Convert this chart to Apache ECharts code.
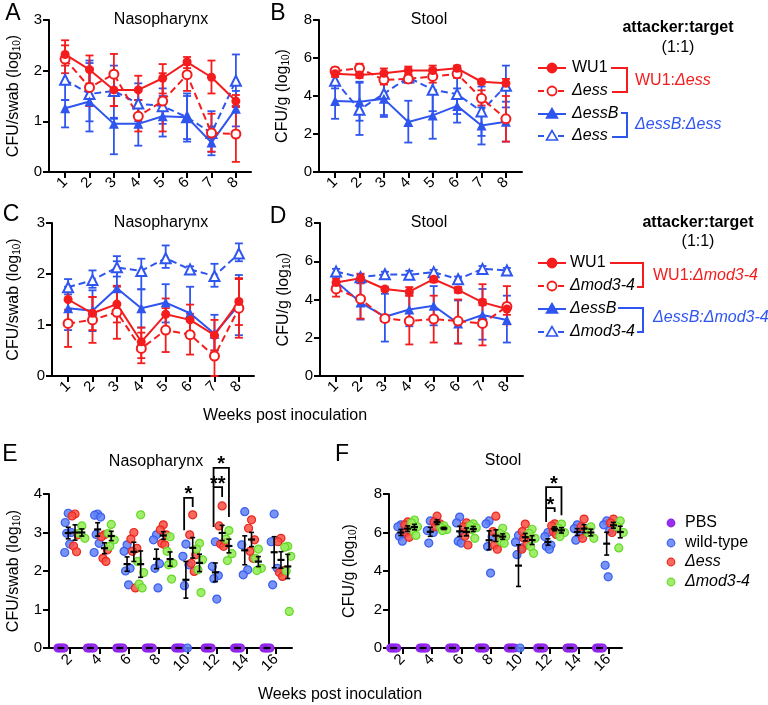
<!DOCTYPE html>
<html><head><meta charset="utf-8">
<script src="https://cdn.jsdelivr.net/npm/echarts@6/dist/echarts.min.js"></script>
<style>html,body{margin:0;padding:0;background:#fff}#c{width:768px;height:705px}</style>
</head><body><div id="c"></div>
<script>
const FONT = '"Liberation Sans", Arial, Helvetica, sans-serif';
const RED = '#f41c1c';
const BLUE = '#2f55ef';

// ---------- Panels A-D (weeks 1-8) ----------
const weeksAD = [1, 2, 3, 4, 5, 6, 7, 8];
const tickLabelsAD = ['1', '2', '3', '4', '5', '6', '7', '8'];

// Panel A: Nasopharynx (WU1:Δess, ΔessB:Δess)
const A_WU1 = [2.32, 2.02, 1.62, 1.62, 1.85, 2.17, 1.87, 1.40];
const A_WU1_lo = [2.10, 1.75, 1.30, 1.30, 1.55, 2.05, 1.55, 1.28];
const A_WU1_hi = [2.60, 2.30, 1.95, 1.90, 2.13, 2.27, 2.20, 1.52];
const A_ESS_R = [2.23, 1.67, 1.93, 1.10, 1.40, 1.92, 0.77, 0.75];
const A_ESS_R_lo = [1.95, 1.30, 1.30, 0.80, 0.80, 1.60, 0.40, 0.20];
const A_ESS_R_hi = [2.50, 2.05, 2.33, 1.42, 1.95, 2.20, 1.15, 1.30];
const A_ESSB = [1.26, 1.39, 0.95, 0.95, 1.10, 1.08, 0.58, 1.25];
const A_ESSB_lo = [0.88, 0.80, 0.35, 0.52, 0.70, 0.60, 0.33, 0.90];
const A_ESSB_hi = [1.42, 2.20, 1.07, 1.42, 1.50, 1.55, 0.90, 1.60];
const A_ESS_B = [1.82, 1.54, 1.60, 1.35, 1.30, 1.08, 0.77, 1.80];
const A_ESS_B_lo = [1.42, 1.00, 1.05, 1.00, 0.95, 0.65, 0.40, 1.30];
const A_ESS_B_hi = [2.20, 2.15, 2.10, 1.75, 1.65, 1.50, 1.20, 2.32];

// Panel B: Stool
const B_WU1 = [5.17, 5.11, 5.20, 5.34, 5.34, 5.46, 4.75, 4.67];
const B_WU1_lo = [5.00, 4.95, 5.00, 5.15, 5.10, 5.35, 4.65, 4.40];
const B_WU1_hi = [5.35, 5.30, 5.45, 5.55, 5.60, 5.60, 4.85, 4.90];
const B_ESS_R = [5.32, 5.46, 4.85, 4.90, 5.03, 5.17, 3.88, 2.80];
const B_ESS_R_lo = [5.15, 5.20, 4.60, 4.70, 4.70, 4.95, 3.50, 1.60];
const B_ESS_R_hi = [5.50, 5.70, 5.10, 5.10, 5.40, 5.40, 4.30, 4.00];
const B_ESSB = [3.74, 3.70, 3.85, 2.63, 2.98, 3.48, 2.45, 2.65];
const B_ESSB_lo = [2.80, 2.70, 2.90, 1.55, 1.75, 2.60, 1.45, 1.60];
const B_ESSB_hi = [4.60, 4.75, 4.90, 3.75, 4.20, 4.40, 3.40, 3.70];
const B_ESS_B = [4.80, 3.28, 4.12, 4.98, 4.33, 4.10, 3.19, 4.54];
const B_ESS_B_lo = [4.40, 1.95, 3.00, 4.70, 3.20, 3.05, 1.90, 3.40];
const B_ESS_B_hi = [5.20, 4.70, 5.20, 5.30, 5.40, 5.20, 4.50, 5.60];

// Panel C: Nasopharynx (WU1:Δmod3-4, ΔessB:Δmod3-4)
const C_WU1 = [1.50, 1.23, 1.41, 0.67, 1.21, 1.10, 0.80, 1.46];
const C_WU1_lo = [1.30, 0.90, 1.05, 0.35, 0.90, 0.75, 0.50, 1.00];
const C_WU1_hi = [1.70, 1.55, 1.75, 0.95, 1.52, 1.40, 1.10, 1.92];
const C_MOD_R = [1.03, 1.10, 1.25, 0.54, 0.90, 0.81, 0.39, 1.33];
const C_MOD_R_lo = [0.57, 0.65, 0.73, 0.25, 0.47, 0.42, 0.00, 0.75];
const C_MOD_R_hi = [1.50, 1.55, 1.77, 0.85, 1.33, 1.22, 0.80, 1.90];
const C_ESSB = [1.33, 1.28, 1.72, 1.33, 1.44, 1.23, 0.83, 1.39];
const C_ESSB_lo = [0.90, 0.88, 1.25, 0.95, 1.05, 0.75, 0.50, 0.80];
const C_ESSB_hi = [1.75, 1.68, 2.25, 1.70, 1.80, 1.75, 1.20, 1.98];
const C_MOD_B = [1.74, 1.88, 2.13, 2.06, 2.31, 2.09, 1.96, 2.40];
const C_MOD_B_lo = [1.60, 1.73, 1.95, 1.70, 2.12, 2.03, 1.75, 2.25];
const C_MOD_B_hi = [1.90, 2.07, 2.35, 2.30, 2.56, 2.15, 2.20, 2.60];

// Panel D: Stool
const D_WU1 = [4.89, 5.11, 4.55, 4.41, 5.06, 4.50, 3.85, 3.50];
const D_WU1_lo = [4.70, 4.85, 4.45, 4.20, 4.90, 4.35, 3.70, 3.20];
const D_WU1_hi = [5.10, 5.35, 4.65, 4.65, 5.20, 4.65, 4.00, 3.80];
const D_MOD_R = [4.55, 4.03, 3.01, 2.87, 2.98, 2.87, 2.75, 3.63];
const D_MOD_R_lo = [4.15, 3.00, 2.85, 1.65, 1.75, 1.70, 1.60, 2.70];
const D_MOD_R_hi = [4.90, 5.10, 3.20, 4.20, 4.20, 4.00, 4.80, 4.70];
const D_ESSB = [4.94, 3.84, 3.10, 3.48, 3.67, 2.75, 3.19, 2.93];
const D_ESSB_lo = [4.75, 2.95, 1.80, 2.60, 2.65, 1.70, 1.90, 1.75];
const D_ESSB_hi = [5.20, 4.85, 4.30, 4.30, 4.70, 3.95, 4.55, 4.20];
const D_MOD_B = [5.46, 5.16, 5.32, 5.29, 5.43, 5.06, 5.60, 5.52];
const D_MOD_B_lo = [5.30, 5.00, 5.20, 5.10, 5.30, 4.95, 5.45, 5.40];
const D_MOD_B_hi = [5.60, 5.30, 5.45, 5.50, 5.55, 5.20, 5.75, 5.65];

// ---------- Panels E-F (weeks 2-16, individual mice) ----------
const weeksEF = [2, 4, 6, 8, 10, 12, 14, 16];
const tickLabelsEF = ['2', '4', '6', '8', '10', '12', '14', '16'];
const groupNames = ['PBS', 'wild-type', 'Δess', 'Δmod3-4'];

const E_PBS = [[0,0,0,0],[0,0,0,0],[0,0,0,0],[0,0,0,0],[0,0,0,0],[0,0,0,0],[0,0,0,0],[0,0,0,0]];
const E_WT = [
  [3.50, 3.26, 3.00, 2.98, 2.70, 2.48],
  [3.48, 3.45, 3.40, 2.95, 2.72, 2.48],
  [2.68, 2.51, 2.07, 2.00, 1.64],
  [2.94, 2.81, 2.19, 2.07, 1.56],
  [2.70, 2.38, 2.16, 1.62, 0.00],
  [2.76, 2.12, 1.88, 1.80, 1.27],
  [3.54, 2.68, 2.03, 1.90],
  [3.48, 2.76, 2.07, 1.64]
];
const E_ESS = [
  [3.48, 3.43, 2.94, 2.65, 2.50],
  [2.94, 2.89, 2.55, 2.33, 2.25],
  [3.00, 2.83, 2.59, 2.51, 1.56],
  [3.20, 3.07, 2.94, 2.72, 2.68],
  [3.46, 2.94, 2.42, 2.20, 1.99],
  [3.69, 3.17, 2.74, 2.70, 2.64],
  [3.33, 3.11, 2.81, 2.51, 2.33],
  [2.85, 2.76, 2.01, 1.96, 1.86]
];
const E_MOD = [
  [3.17, 2.98, 2.85],
  [3.21, 2.98, 2.81, 2.64],
  [3.46, 2.25, 1.96, 1.66, 1.56],
  [2.89, 2.51, 2.20, 2.16, 1.79],
  [2.72, 2.57, 2.29, 2.03, 1.44],
  [3.05, 2.83, 2.45, 2.27],
  [2.57, 2.33, 2.07, 2.01],
  [2.64, 2.62, 2.38, 2.00, 0.95]
];
const F_PBS = [[0,0,0,0],[0,0,0,0],[0,0,0,0],[0,0,0,0],[0,0,0,0],[0,0,0,0],[0,0,0,0],[0,0,0,0]];
const F_WT = [
  [6.40, 6.30, 5.95, 5.80, 5.55],
  [6.60, 6.10, 6.00, 5.45],
  [6.80, 6.50, 6.00, 5.55, 5.45],
  [6.60, 6.45, 5.78, 5.27, 3.89],
  [5.85, 5.50, 5.20, 4.85, 0.00],
  [6.00, 5.79, 5.35, 5.27, 5.13],
  [6.40, 6.20, 5.90, 5.60],
  [6.60, 6.40, 6.10, 4.30, 3.70]
];
const F_ESS = [
  [6.55, 6.40, 6.30, 6.00, 5.75],
  [6.85, 6.55, 6.45, 6.30],
  [6.50, 6.30, 6.20, 5.80, 5.35],
  [6.85, 6.05, 5.80, 5.35, 5.13],
  [6.44, 6.05, 5.87, 5.70, 5.35, 5.13],
  [6.45, 6.35, 6.20, 6.05, 5.90],
  [6.70, 6.30, 6.10, 5.70],
  [6.70, 6.50, 6.30, 6.00]
];
const F_MOD = [
  [6.65, 6.50, 6.30, 6.10, 5.85],
  [6.35, 6.25, 6.15, 6.10],
  [6.45, 6.35, 6.25, 6.15, 5.70],
  [6.22, 5.96, 5.79, 5.53, 5.44],
  [6.17, 5.96, 5.70, 5.27, 4.92],
  [6.44, 6.22, 6.00, 5.79],
  [6.30, 6.00, 5.70],
  [6.60, 6.30, 6.00, 5.20]
];
// significance brackets (week, from group, to group, label)
const E_SIG_WEEK = [10, 12, 12];
const E_SIG_FROM = [1, 1, 1];
const E_SIG_TO = [2, 2, 3];
const E_SIG_TOP = [3.90, 4.18, 4.68];
const E_SIG_FROM_BOTTOM = [3.06, 3.14, 4.18];
const E_SIG_TO_BOTTOM = [3.66, 3.92, 3.40];
const E_SIG_LABEL = ['*', '**', '*'];
const F_SIG_WEEK = [12, 12];
const F_SIG_FROM = [1, 1];
const F_SIG_TO = [2, 3];
const F_SIG_TOP = [7.27, 8.36];
const F_SIG_FROM_BOTTOM = [6.55, 7.27];
const F_SIG_TO_BOTTOM = [7.06, 6.90];
const F_SIG_LABEL = ['*', '*'];

// ---------- layout constants ----------
const EF_UNIT_PX = 14.7;                  // px per week unit in E/F
const GROUP_OFF_PX = [-9, -1.8, 5, 11.8];  // sub-column offsets
const JITTER_PX = [0, -3, 3, -1.5, 1.5, -3.5];
const EF_FILL = ['#9a2ff0', 'rgba(95,128,245,0.85)', 'rgba(250,78,66,0.85)', 'rgba(150,236,92,0.9)'];
const EF_BORDER = ['#8c22e6', '#3a5ef0', '#e8281e', '#66d82a'];

const axisLineStyle = { color: '#000', width: 2 };
const labelStyle = { fontSize: 15, color: '#000', fontFamily: FONT };

function yNameRich(main) {
  return '{t|' + main + ' (log}{s|10}{t|)}';
}
const nameRich = {
  t: { fontSize: 16, fontFamily: FONT, color: '#000', lineHeight: 18, verticalAlign: 'bottom' },
  s: { fontSize: 10, fontFamily: FONT, color: '#000', lineHeight: 8, verticalAlign: 'bottom' }
};

const grids = [
  { left: 49, top: 20, width: 202, height: 152 },
  { left: 319, top: 20, width: 203, height: 152 },
  { left: 52, top: 223, width: 202, height: 153 },
  { left: 320, top: 223, width: 203, height: 153 },
  { left: 49, top: 494, width: 243, height: 154 },
  { left: 389, top: 494, width: 233, height: 154 }
];

function xAxisCfg(gi, min, max, vals, labels, margin) {
  return {
    gridIndex: gi, type: 'value', min, max,
    axisLine: { show: true, onZero: false, lineStyle: axisLineStyle },
    axisTick: { show: true, customValues: vals, length: 6, lineStyle: { color: '#000', width: 2 } },
    axisLabel: Object.assign({ customValues: vals, rotate: 45, margin,
      formatter: v => labels[vals.indexOf(v)] }, labelStyle),
    splitLine: { show: false }
  };
}
function yAxisCfg(gi, max, interval, name, gap) {
  return {
    gridIndex: gi, type: 'value', min: 0, max, interval,
    axisLine: { show: true, lineStyle: axisLineStyle },
    axisTick: { show: true, length: 6, lineStyle: { color: '#000', width: 2 } },
    axisLabel: Object.assign({ margin: 7 }, labelStyle),
    splitLine: { show: false },
    name, nameLocation: 'middle', nameGap: gap, nameRotate: 90,
    nameTextStyle: { rich: nameRich }
  };
}

const xAxes = [
  xAxisCfg(0, 0.34, 8.62, weeksAD, tickLabelsAD, 8),
  xAxisCfg(1, 0.34, 8.66, weeksAD, tickLabelsAD, 8),
  xAxisCfg(2, 0.34, 8.62, weeksAD, tickLabelsAD, 8),
  xAxisCfg(3, 0.34, 8.66, weeksAD, tickLabelsAD, 8),
  xAxisCfg(4, 0.571, 17.09, weeksEF, tickLabelsEF, 9),
  xAxisCfg(5, 1.07, 16.92, weeksEF, tickLabelsEF, 9)
];
const yAxes = [
  yAxisCfg(0, 3, 1, yNameRich('CFU/swab'), 27),
  yAxisCfg(1, 8, 2, yNameRich('CFU/g'), 28),
  yAxisCfg(2, 3, 1, yNameRich('CFU/swab'), 30),
  yAxisCfg(3, 8, 2, yNameRich('CFU/g'), 28),
  yAxisCfg(4, 4, 1, yNameRich('CFU/swab'), 27),
  yAxisCfg(5, 8, 2, yNameRich('CFU/g'), 31)
];

const series = [];

function addLineGroup(gi, ys, lo, hi, color, symbol, dashed) {
  series.push({
    type: 'custom', xAxisIndex: gi, yAxisIndex: gi, silent: true, clip: false, z: 3,
    data: weeksAD.map((w, i) => [w, lo[i], hi[i]]),
    encode: { x: 0, y: [1, 2] },
    renderItem(params, api) {
      const x = api.value(0);
      const p1 = api.coord([x, api.value(1)]);
      const p2 = api.coord([x, api.value(2)]);
      const c = 4;
      const st = { stroke: color, lineWidth: 1.8 };
      return { type: 'group', children: [
        { type: 'line', shape: { x1: p1[0], y1: p1[1], x2: p2[0], y2: p2[1] }, style: st },
        { type: 'line', shape: { x1: p1[0] - c, y1: p1[1], x2: p1[0] + c, y2: p1[1] }, style: st },
        { type: 'line', shape: { x1: p2[0] - c, y1: p2[1], x2: p2[0] + c, y2: p2[1] }, style: st }
      ] };
    }
  });
  const empty = symbol.indexOf('empty') === 0;
  series.push({
    type: 'line', xAxisIndex: gi, yAxisIndex: gi, z: 5,
    data: weeksAD.map((w, i) => [w, ys[i]]),
    symbol, symbolSize: symbol.toLowerCase().indexOf('triangle') >= 0 ? 10 : 9, showSymbol: true,
    lineStyle: { color, width: 2, type: dashed ? [7, 4] : 'solid' },
    itemStyle: { color, borderColor: color, borderWidth: empty ? 1.8 : 0 },
    emphasis: { disabled: true }
  });
}

addLineGroup(0, A_ESS_B, A_ESS_B_lo, A_ESS_B_hi, BLUE, 'emptyTriangle', true);
addLineGroup(0, A_ESSB, A_ESSB_lo, A_ESSB_hi, BLUE, 'triangle', false);
addLineGroup(0, A_ESS_R, A_ESS_R_lo, A_ESS_R_hi, RED, 'emptyCircle', true);
addLineGroup(0, A_WU1, A_WU1_lo, A_WU1_hi, RED, 'circle', false);

addLineGroup(1, B_ESS_B, B_ESS_B_lo, B_ESS_B_hi, BLUE, 'emptyTriangle', true);
addLineGroup(1, B_ESSB, B_ESSB_lo, B_ESSB_hi, BLUE, 'triangle', false);
addLineGroup(1, B_ESS_R, B_ESS_R_lo, B_ESS_R_hi, RED, 'emptyCircle', true);
addLineGroup(1, B_WU1, B_WU1_lo, B_WU1_hi, RED, 'circle', false);

addLineGroup(2, C_MOD_B, C_MOD_B_lo, C_MOD_B_hi, BLUE, 'emptyTriangle', true);
addLineGroup(2, C_ESSB, C_ESSB_lo, C_ESSB_hi, BLUE, 'triangle', false);
addLineGroup(2, C_MOD_R, C_MOD_R_lo, C_MOD_R_hi, RED, 'emptyCircle', true);
addLineGroup(2, C_WU1, C_WU1_lo, C_WU1_hi, RED, 'circle', false);

addLineGroup(3, D_MOD_B, D_MOD_B_lo, D_MOD_B_hi, BLUE, 'emptyTriangle', true);
addLineGroup(3, D_ESSB, D_ESSB_lo, D_ESSB_hi, BLUE, 'triangle', false);
addLineGroup(3, D_MOD_R, D_MOD_R_lo, D_MOD_R_hi, RED, 'emptyCircle', true);
addLineGroup(3, D_WU1, D_WU1_lo, D_WU1_hi, RED, 'circle', false);

function mean(a) { return a.reduce((s, v) => s + v, 0) / a.length; }
function sem(a) {
  const m = mean(a);
  const sd = Math.sqrt(a.reduce((s, v) => s + (v - m) * (v - m), 0) / (a.length - 1));
  return sd / Math.sqrt(a.length);
}

function addScatterPanel(gi, groups) {
  groups.forEach((g, k) => {
    const off = GROUP_OFF_PX[k] / EF_UNIT_PX;
    const pts = [];
    g.forEach((vals, wi) => {
      vals.forEach((v, j) => {
        const jit = (k === 0 ? [-3, -1, 1, 3][j % 4] : JITTER_PX[j % JITTER_PX.length]) / EF_UNIT_PX;
        pts.push([weeksEF[wi] + off + jit, v]);
      });
    });
    series.push({
      type: 'scatter', name: groupNames[k], xAxisIndex: gi, yAxisIndex: gi, clip: false, z: 4,
      data: pts, symbol: 'circle', symbolSize: 8,
      itemStyle: { color: EF_FILL[k], borderColor: EF_BORDER[k], borderWidth: 1.2, opacity: 1 },
      emphasis: { disabled: true }
    });
  });
  // mean ± SEM bars
  const bars = [];
  groups.forEach((g, k) => {
    const off = GROUP_OFF_PX[k] / EF_UNIT_PX;
    g.forEach((vals, wi) => {
      const m = mean(vals), s = sem(vals);
      bars.push([weeksEF[wi] + off, m, m - s, m + s]);
    });
  });
  series.push({
    type: 'custom', xAxisIndex: gi, yAxisIndex: gi, silent: true, clip: false, z: 6,
    data: bars, encode: { x: 0, y: [1, 2, 3] },
    renderItem(params, api) {
      const x = api.value(0);
      const pm = api.coord([x, api.value(1)]);
      const pl = api.coord([x, api.value(2)]);
      const ph = api.coord([x, api.value(3)]);
      const st = { stroke: '#000', lineWidth: 1.6 };
      const c = 2.5, mw = 3.5;
      return { type: 'group', children: [
        { type: 'line', shape: { x1: pl[0], y1: pl[1], x2: ph[0], y2: ph[1] }, style: st },
        { type: 'line', shape: { x1: pl[0] - c, y1: pl[1], x2: pl[0] + c, y2: pl[1] }, style: st },
        { type: 'line', shape: { x1: ph[0] - c, y1: ph[1], x2: ph[0] + c, y2: ph[1] }, style: st },
        { type: 'line', shape: { x1: pm[0] - mw, y1: pm[1], x2: pm[0] + mw, y2: pm[1] }, style: { stroke: '#000', lineWidth: 2.2 } }
      ] };
    }
  });
}
addScatterPanel(4, [E_PBS, E_WT, E_ESS, E_MOD]);
addScatterPanel(5, [F_PBS, F_WT, F_ESS, F_MOD]);

function addSig(gi, weeks, from, to, top, fromB, toB, labels) {
  series.push({
    type: 'custom', xAxisIndex: gi, yAxisIndex: gi, silent: true, clip: false, z: 7,
    data: weeks.map((w, i) => [w + GROUP_OFF_PX[from[i]] / EF_UNIT_PX - 0.12,
                               w + GROUP_OFF_PX[to[i]] / EF_UNIT_PX, top[i], fromB[i], toB[i]]),
    encode: { x: [0, 1], y: [2, 3, 4] },
    renderItem(params, api) {
      const xl = api.value(0), xr = api.value(1), t = api.value(2);
      const pTL = api.coord([xl, t]), pTR = api.coord([xr, t]);
      const pLB = api.coord([xl, api.value(3)]), pRB = api.coord([xr, api.value(4)]);
      return { type: 'group', children: [
        { type: 'polyline', shape: { points: [pLB, pTL, pTR, pRB] }, style: { stroke: '#000', lineWidth: 1.8, fill: null } },
        { type: 'text', x: (pTL[0] + pTR[0]) / 2, y: pTL[1] - 13,
          style: { text: labels[params.dataIndex], fontSize: 20, fontWeight: 'bold', fontFamily: FONT,
                   align: 'center', verticalAlign: 'top', fill: '#000' } }
      ] };
    }
  });
}
addSig(4, E_SIG_WEEK, E_SIG_FROM, E_SIG_TO, E_SIG_TOP, E_SIG_FROM_BOTTOM, E_SIG_TO_BOTTOM, E_SIG_LABEL);
addSig(5, F_SIG_WEEK, F_SIG_FROM, F_SIG_TO, F_SIG_TOP, F_SIG_FROM_BOTTOM, F_SIG_TO_BOTTOM, F_SIG_LABEL);

// ---------- graphic annotations ----------
function txt(x, y, text, opts) {
  return { type: 'text', x, y, style: Object.assign({ text, fontSize: 16, fontFamily: FONT, fill: '#000',
    align: 'center', verticalAlign: 'middle' }, opts || {}) };
}
const italicRich = (color) => ({ i: { fontStyle: 'italic', fontSize: 16, fontFamily: FONT, fill: color } });

function legendRow(y, color, shape, filled, dashed, text, textX) {
  const els = [];
  els.push({ type: 'line', shape: { x1: 538, y1: y, x2: 566, y2: y },
    style: { stroke: color, lineWidth: 2, lineDash: dashed ? [6, 4] : null } });
  if (shape === 'circle') {
    els.push({ type: 'circle', shape: { cx: 552, cy: y, r: 4.5 },
      style: { fill: filled ? color : '#fff', stroke: color, lineWidth: 1.8 } });
  } else {
    els.push({ type: 'polygon', shape: { points: [[552, y - 5.5], [546.5, y + 4], [557.5, y + 4]] },
      style: { fill: filled ? color : '#fff', stroke: color, lineWidth: 1.6 } });
  }
  els.push(txt(textX, y, text, { align: 'left', rich: italicRich('#000') }));
  return els;
}
function bracket(points, color) {
  return { type: 'polyline', shape: { points }, style: { stroke: color, lineWidth: 2, fill: null } };
}

const graphics = [
  // panel letters
  txt(13, 14, 'A', { fontSize: 23 }),
  txt(278, 14, 'B', { fontSize: 23 }),
  txt(11, 215, 'C', { fontSize: 23 }),
  txt(278, 217, 'D', { fontSize: 23 }),
  txt(10, 455, 'E', { fontSize: 23 }),
  txt(342, 455, 'F', { fontSize: 23 }),
  // titles
  txt(161, 20, 'Nasopharynx'),
  txt(429, 20, 'Stool'),
  txt(161, 223, 'Nasopharynx'),
  txt(429, 223, 'Stool'),
  txt(156, 462, 'Nasopharynx'),
  txt(503, 461, 'Stool'),
  // x axis names
  txt(285, 416, 'Weeks post inoculation'),
  txt(340, 695, 'Weeks post inoculation'),
  // legend AB
  txt(678, 28, 'attacker:target', { fontWeight: 'bold' }),
  txt(678, 48, '(1:1)'),
  ...legendRow(68, RED, 'circle', true, false, 'WU1', 572),
  ...legendRow(91, RED, 'circle', false, true, '{i|Δess}', 572),
  ...legendRow(114, BLUE, 'triangle', true, false, '{i|ΔessB}', 572),
  ...legendRow(136, BLUE, 'triangle', false, true, '{i|Δess}', 572),
  bracket([[611, 68], [627, 68], [627, 92], [612, 92]], RED),
  txt(635, 81, 'WU1:{i|Δess}', { align: 'left', fill: RED, rich: italicRich(RED) }),
  bracket([[621, 113], [627, 113], [627, 137], [612, 137]], BLUE),
  txt(635, 125, '{i|ΔessB:Δess}', { align: 'left', fill: BLUE, rich: italicRich(BLUE) }),
  // legend CD
  txt(698, 223, 'attacker:target', { fontWeight: 'bold' }),
  txt(698, 242, '(1:1)'),
  ...legendRow(263, RED, 'circle', true, false, 'WU1', 570),
  ...legendRow(286, RED, 'circle', false, true, '{i|Δmod3-4}', 570),
  ...legendRow(309, BLUE, 'triangle', true, false, '{i|ΔessB}', 570),
  ...legendRow(332, BLUE, 'triangle', false, true, '{i|Δmod3-4}', 570),
  bracket([[610, 263], [643, 263], [643, 287], [637, 287]], RED),
  txt(653, 276, 'WU1:{i|Δmod3-4}', { align: 'left', fill: RED, rich: italicRich(RED) }),
  bracket([[618, 308], [643, 308], [643, 332], [637, 332]], BLUE),
  txt(653, 318, '{i|ΔessB:Δmod3-4}', { align: 'left', fill: BLUE, rich: italicRich(BLUE) })
];
// legend EF
const efLegendY = [523, 543, 562, 582];
groupNames.forEach((n, k) => {
  graphics.push({ type: 'circle', shape: { cx: 671, cy: efLegendY[k], r: 3.8 },
    style: { fill: EF_FILL[k], stroke: EF_BORDER[k], lineWidth: 1.2 } });
  graphics.push(txt(685, efLegendY[k], k >= 2 ? '{i|' + n + '}' : n, { align: 'left', rich: italicRich('#000') }));
});

const chart = echarts.init(document.getElementById('c'), null, { renderer: 'canvas' });
chart.setOption({
  animation: false,
  backgroundColor: '#fff',
  grid: grids,
  xAxis: xAxes,
  yAxis: yAxes,
  series,
  graphic: graphics
});
</script></body></html>
